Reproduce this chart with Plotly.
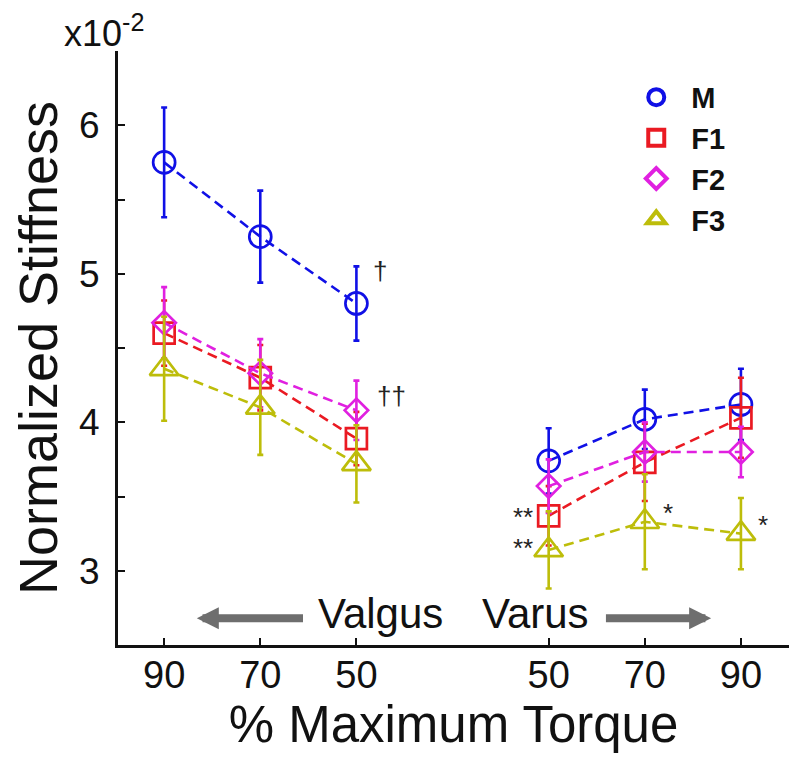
import plotly.graph_objects as go

# ---------------- data ----------------
valgus_labels = ["90", "70", "50"]
varus_labels = ["50", "70", "90"]
tick_labels = valgus_labels + varus_labels
valgus_pos = [1, 2, 3]
varus_pos = [5, 6, 7]

series_names = ["M", "F1", "F2", "F3"]

M_valgus = [5.75, 5.25, 4.80]
M_valgus_err = [0.37, 0.31, 0.25]
M_varus = [3.74, 4.02, 4.12]
M_varus_err = [0.22, 0.20, 0.24]

F1_valgus = [4.60, 4.30, 3.89]
F1_valgus_err = [0.22, 0.22, 0.18]
F1_varus = [3.37, 3.73, 4.03]
F1_varus_err = [0.20, 0.26, 0.27]

F2_valgus = [4.67, 4.33, 4.08]
F2_valgus_err = [0.24, 0.23, 0.20]
F2_varus = [3.57, 3.80, 3.80]
F2_varus_err = [0.18, 0.20, 0.17]

F3_valgus = [4.36, 4.10, 3.72]
F3_valgus_err = [0.35, 0.32, 0.26]
F3_varus = [3.14, 3.33, 3.25]
F3_varus_err = [0.26, 0.32, 0.24]

# significance markers: (text, x, y)
sig_marks = [
    ("\u2020", 3.25, 5.02),
    ("\u2020\u2020", 3.36, 4.18),
    ("**", 4.73, 3.36),
    ("**", 4.73, 3.15),
    ("*", 6.24, 3.39),
    ("*", 7.23, 3.31),
]

# ---------------- style ----------------
FONT = "Liberation Sans, Arial, sans-serif"
colors = {"M": "#1010E6", "F1": "#EA1A22", "F2": "#E020E0", "F3": "#BDBD0A"}
symbols = {"M": "circle-open", "F1": "square-open", "F2": "diamond-open", "F3": "triangle-up-open"}
sizes = {"M": 22, "F1": 21, "F2": 18, "F3": 25}

data = {
    "M": (M_valgus, M_valgus_err, M_varus, M_varus_err),
    "F1": (F1_valgus, F1_valgus_err, F1_varus, F1_varus_err),
    "F2": (F2_valgus, F2_valgus_err, F2_varus, F2_varus_err),
    "F3": (F3_valgus, F3_valgus_err, F3_varus, F3_varus_err),
}

fig = go.Figure()

for name in series_names:
    vy, ve, ry, re_ = data[name]
    c = colors[name]
    for xs, ys, es in ((valgus_pos, vy, ve), (varus_pos, ry, re_)):
        fig.add_trace(go.Scatter(
            x=xs, y=ys, mode="lines+markers", showlegend=False,
            line=dict(color=c, width=2.6, dash="10px,6px"),
            marker=dict(symbol=symbols[name], size=sizes[name], color=c,
                        line=dict(color=c, width=2.7)),
            error_y=dict(type="data", array=es, visible=True, color=c,
                         thickness=2.6, width=3),
        ))

# legend-only traces
for name in series_names:
    c = colors[name]
    fig.add_trace(go.Scatter(
        x=[None], y=[None], mode="markers", name="<b>%s</b>" % name,
        marker=dict(symbol=symbols[name], size=16, color=c, line=dict(color=c, width=4)),
    ))

annotations = []
for txt, x, y in sig_marks:
    annotations.append(dict(x=x, y=y, xref="x", yref="y", text=txt, showarrow=False,
                            font=dict(family=FONT, size=26, color="#222")))

# direction arrows and labels
annotations += [
    dict(x=1.34, y=2.68, ax=2.46, ay=2.68, xref="x", yref="y", axref="x", ayref="y",
         text="", showarrow=True, arrowhead=2, arrowsize=0.55, arrowwidth=8,
         arrowcolor="#6E6E6E"),
    dict(x=6.69, y=2.68, ax=5.58, ay=2.68, xref="x", yref="y", axref="x", ayref="y",
         text="", showarrow=True, arrowhead=2, arrowsize=0.55, arrowwidth=8,
         arrowcolor="#6E6E6E"),
    dict(x=3.25, y=2.71, xref="x", yref="y", text="Valgus", showarrow=False,
         font=dict(family=FONT, size=42, color="#111")),
    dict(x=4.86, y=2.71, xref="x", yref="y", text="Varus", showarrow=False,
         font=dict(family=FONT, size=42, color="#111")),
    dict(x=-0.083, y=1.034, xref="paper", yref="paper", xanchor="left", yanchor="middle",
         text="x10<sup>-2</sup>", showarrow=False,
         font=dict(family=FONT, size=36, color="#111")),
]

fig.update_layout(
    width=792, height=759,
    margin=dict(l=110, r=11, t=43, b=122),
    plot_bgcolor="white", paper_bgcolor="white",
    font=dict(family=FONT, color="#111"),
    annotations=annotations,
    showlegend=True,
    legend=dict(x=0.75, y=0.965, xanchor="left", yanchor="top",
                font=dict(family=FONT, size=29, color="#111"),
                bgcolor="rgba(0,0,0,0)", itemsizing="trace",
                itemwidth=60),
    xaxis=dict(range=[0.52, 7.5], tickvals=valgus_pos + varus_pos, ticktext=tick_labels,
               automargin=False,
               showline=True, linecolor="#111", linewidth=3, mirror=False,
               ticks="inside", ticklen=7, tickwidth=2, tickcolor="#111",
               showgrid=False, zeroline=False, ticklabelstandoff=-6,
               tickfont=dict(family=FONT, size=38, color="#111"),
               title=dict(text="% Maximum Torque", font=dict(family=FONT, size=51, color="#111"),
                          standoff=6)),
    yaxis=dict(range=[2.5, 6.5], tickvals=[3, 4, 5, 6], ticktext=["3", "4", "5", "6"],
               automargin=False,
               showline=True, linecolor="#111", linewidth=3, mirror=False,
               ticks="inside", ticklen=7, tickwidth=2, tickcolor="#111",
               minor=dict(tickvals=[2.5, 3.5, 4.5, 5.5, 6.5], ticks="inside", ticklen=7,
                          tickwidth=2, tickcolor="#111"),
               showgrid=False, zeroline=False, ticklabelstandoff=8,
               tickfont=dict(family=FONT, size=37, color="#111"),
               title=dict(text="Normalized Stiffness", font=dict(family=FONT, size=54, color="#111"),
                          standoff=8)),
)

fig.write_html("out.html")
